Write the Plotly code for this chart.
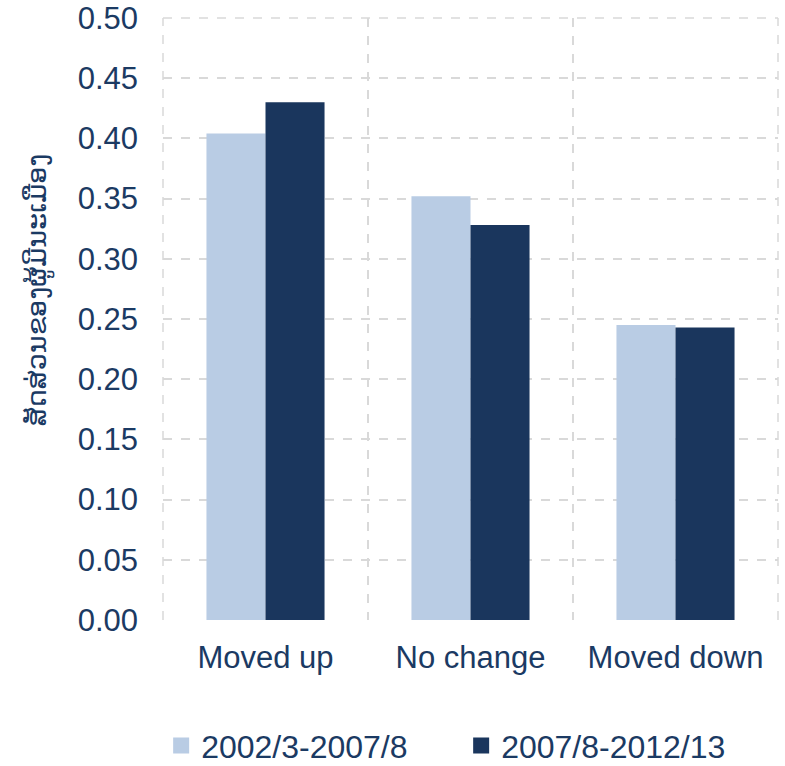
import plotly.graph_objects as go

# categories and series
categories = ["Moved up", "No change", "Moved down"]
series_names = ["2002/3-2007/8", "2007/8-2012/13"]
values_0207 = [0.404, 0.352, 0.245]
values_0712 = [0.430, 0.328, 0.243]

y_title = "ສັດສ່ວນຂອງຜູ້ມີນະເມືອງ"

navy = "#1b3a63"
light_blue = "#b9cce4"
dark_blue = "#1a365d"
grid = "#d9d9d9"
colors = [light_blue, dark_blue]

fig = go.Figure()
for name, vals, col in zip(series_names, [values_0207, values_0712], colors):
    fig.add_trace(go.Bar(x=categories, y=vals, name=name, showlegend=False,
                         marker=dict(color=col, line=dict(width=0))))
    # proxy trace so the legend gets big square swatches
    fig.add_trace(go.Scatter(x=[None], y=[None], mode="markers", name=name,
                             marker=dict(symbol="square", size=18, color=col)))

# dashed frame lines on the left, right and top edge of the plot area
for xd in [0, 1]:
    fig.add_shape(type="line", xref="x domain", yref="y domain", x0=xd, x1=xd, y0=0, y1=1,
                  line=dict(color=grid, width=1.5, dash="dash"), layer="below")
fig.add_shape(type="line", xref="x domain", yref="y domain", x0=0, x1=1, y0=1, y1=1,
              line=dict(color=grid, width=1.5, dash="dash"), layer="below")

fig.update_layout(
    width=785, height=766,
    margin=dict(l=163, r=7, t=18, b=146, autoexpand=False),
    barmode="group", bargap=0.424, bargroupgap=0,
    plot_bgcolor="white", paper_bgcolor="white",
    font=dict(family="Liberation Sans, Arial, sans-serif", size=31, color=navy),
    showlegend=True,
    legend=dict(orientation="h", x=-0.003, xanchor="left", y=-0.209, yanchor="middle",
                font=dict(size=32, color=navy),
                entrywidth=255, entrywidthmode="pixels",
                traceorder="normal", itemsizing="trace"),
)

fig.add_annotation(text=y_title, xref="paper", yref="paper", x=-0.203, y=0.548,
                   xanchor="center", yanchor="middle", textangle=-90, showarrow=False,
                   font=dict(family="DejaVu Sans, Noto Sans, sans-serif", size=27, color=navy))

fig.update_xaxes(
    type="category", tickson="boundaries", ticks="",
    showgrid=True, gridcolor=grid, griddash="dash", gridwidth=1.5,
    showline=False, range=[-0.5, 2.5],
    tickfont=dict(size=31, color=navy), ticklabelstandoff=16,
)
fig.update_yaxes(
    range=[0, 0.5], dtick=0.05, tickformat=".2f",
    showgrid=True, gridcolor=grid, griddash="dash", gridwidth=1.5,
    zeroline=False, showline=False, ticks="",
    tickfont=dict(size=31, color=navy), ticklabelstandoff=24,
    ticklabeloverflow="allow",
)

# drop the default body margin so the figure fills the window exactly
fig.write_html("out.html", config={"displayModeBar": False},
               post_script="document.body.style.margin='0px';")
